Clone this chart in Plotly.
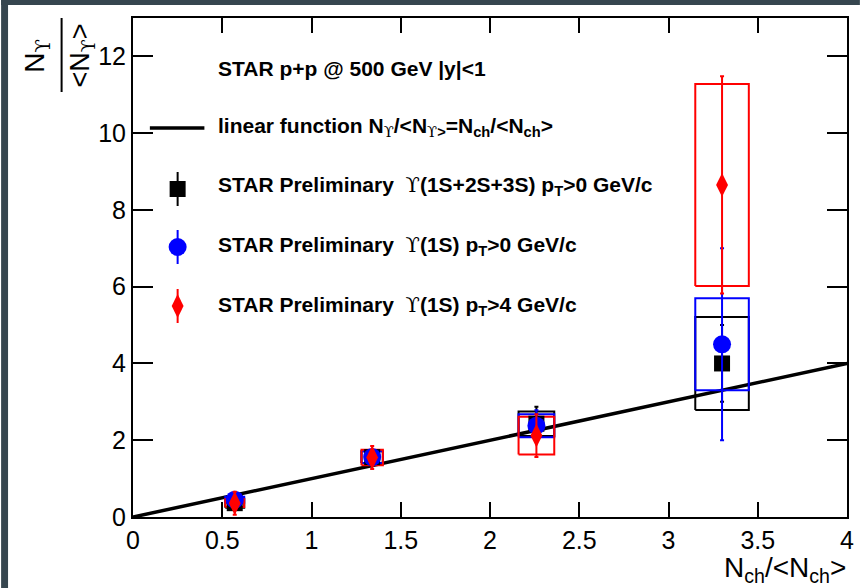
import plotly.graph_objects as go

# Multiplicity bins N_ch/<N_ch> and half-widths of the systematic boxes
nch = [0.57, 1.34, 2.26, 3.30]
nch_box_hw = [0.053, 0.06, 0.10, 0.15]

# Upsilon(1S+2S+3S), pT > 0 GeV/c
all_y = [0.36, 1.56, 2.43, 4.00]
all_stat = [0.12, 0.15, 0.44, 1.00]
all_sys = [0.12, 0.15, 0.32, 1.21]

# Upsilon(1S), pT > 0 GeV/c
s1_y = [0.45, 1.56, 2.38, 4.50]
s1_stat = [0.15, 0.17, 0.40, 2.50]
s1_sys = [0.08, 0.15, 0.30, 1.20]

# Upsilon(1S), pT > 4 GeV/c
s1hi_y = [0.36, 1.55, 2.12, 8.65]
s1hi_stat = [0.30, 0.30, 0.56, 2.83]
s1hi_sys = [0.10, 0.20, 0.49, 2.63]

# Linear reference N_Y/<N_Y> = N_ch/<N_ch>
line_x = [0.0, 4.0]
line_y = [0.0, 4.0]

x_ticks = [0, 0.5, 1, 1.5, 2, 2.5, 3, 3.5, 4]
y_ticks = [0, 2, 4, 6, 8, 10, 12]

FONT = "Liberation Sans, Arial, Helvetica, sans-serif"
BLACK, BLUE, RED = "#000000", "#0000ff", "#ff0000"
UPS = "<span style='font-family:DejaVu Serif;font-weight:normal'>ϒ</span>"

# page geometry (pixels)
W_PAGE, H_PAGE = 866, 588
L, R, T, B = 133, 853, 18, 517


def px(x):
    return (x - L) / (R - L)


def py(y):
    return (B - y) / (B - T)


def box_outline(xs, hws, ys, errs):
    bx, by = [], []
    for x, w, y, e in zip(xs, hws, ys, errs):
        bx += [x - w, x + w, x + w, x - w, x - w, None]
        by += [y - e, y - e, y + e, y + e, y - e, None]
    return bx, by


fig = go.Figure()

fig.add_trace(go.Scatter(x=line_x, y=line_y, mode="lines",
                         line=dict(color=BLACK, width=3.5), showlegend=False))

for ys, sys, col in [(all_y, all_sys, BLACK), (s1_y, s1_sys, BLUE), (s1hi_y, s1hi_sys, RED)]:
    bx, by = box_outline(nch, nch_box_hw, ys, sys)
    fig.add_trace(go.Scatter(x=bx, y=by, mode="lines", line=dict(color=col, width=2),
                             showlegend=False))

series = [
    (all_y, all_stat, BLACK, "square", 16),
    (s1_y, s1_stat, BLUE, "circle", 18),
    (s1hi_y, s1hi_stat, RED, "diamond-tall", 17),
]
for ys, st, col, sym, size in series:
    fig.add_trace(go.Scatter(
        x=nch, y=ys, mode="markers",
        marker=dict(symbol=sym, size=size, color=col, line=dict(width=0)),
        error_y=dict(type="data", array=st, color=col, thickness=2, width=2),
        showlegend=False))

# legend keys, placed on an overlay axis measured in page pixels
fig.add_trace(go.Scatter(x=[150, 205], y=[128, 128], mode="lines", xaxis="x2", yaxis="y2",
                         line=dict(color=BLACK, width=3.5), showlegend=False))
legend_keys = [(189, BLACK, "square", 16), (247, BLUE, "circle", 18), (306, RED, "diamond-tall", 17)]
for yk, col, sym, size in legend_keys:
    fig.add_trace(go.Scatter(
        x=[178], y=[yk], mode="markers", xaxis="x2", yaxis="y2",
        marker=dict(symbol=sym, size=size, color=col, line=dict(width=0)),
        error_y=dict(type="data", array=[17], color=col, thickness=2, width=0),
        showlegend=False))

legend_texts = [
    (68, "<b>STAR p+p @ 500 GeV |y|&lt;1</b>"),
    (127, f"<b>linear function N<sub>{UPS}</sub>/&lt;N<sub>{UPS}&gt;</sub>=N<sub>ch</sub>/&lt;N<sub>ch</sub>&gt;</b>"),
    (186, f"<b>STAR Preliminary  {UPS}(1S+2S+3S) p<sub>T</sub>&gt;0 GeV/c</b>"),
    (246, f"<b>STAR Preliminary  {UPS}(1S) p<sub>T</sub>&gt;0 GeV/c</b>"),
    (306, f"<b>STAR Preliminary  {UPS}(1S) p<sub>T</sub>&gt;4 GeV/c</b>"),
]
annotations = []
for yk, txt in legend_texts:
    annotations.append(dict(xref="paper", yref="paper", x=px(217), y=py(yk),
                            xanchor="left", yanchor="middle", text=txt, showarrow=False,
                            font=dict(family=FONT, size=21, color=BLACK)))

# axis titles
annotations.append(dict(xref="paper", yref="paper", x=px(854), y=py(569),
                        xanchor="right", yanchor="middle", showarrow=False,
                        text="N<sub>ch</sub>/&lt;N<sub>ch</sub>&gt;",
                        font=dict(family=FONT, size=28, color=BLACK)))
annotations.append(dict(xref="paper", yref="paper", x=px(36), y=py(56),
                        xanchor="center", yanchor="middle", showarrow=False, textangle=-90,
                        text=f"N<sub>{UPS}</sub>", font=dict(family=FONT, size=28, color=BLACK)))
annotations.append(dict(xref="paper", yref="paper", x=px(82), y=py(55),
                        xanchor="center", yanchor="middle", showarrow=False, textangle=-90,
                        text=f"&lt;N<sub>{UPS}</sub>&gt;", font=dict(family=FONT, size=27, color=BLACK)))

shapes = [
    # fraction bar of the y title
    dict(type="line", xref="paper", yref="paper", x0=px(61), x1=px(61), y0=py(18), y1=py(92),
         line=dict(color=BLACK, width=2)),
    # dark page frame
    dict(type="rect", xref="paper", yref="paper", x0=px(0), x1=px(7), y0=py(H_PAGE), y1=py(0),
         fillcolor="#36464f", line=dict(width=0), layer="above"),
    dict(type="rect", xref="paper", yref="paper", x0=px(0), x1=px(W_PAGE), y0=py(5), y1=py(0),
         fillcolor="#36464f", line=dict(width=0), layer="above"),
]

axis_common = dict(showline=True, linecolor=BLACK, linewidth=2, mirror="ticks",
                   ticks="inside", tickwidth=2, tickcolor=BLACK, showgrid=False,
                   zeroline=False, tickfont=dict(family=FONT, size=25, color=BLACK))

fig.update_layout(
    width=W_PAGE, height=H_PAGE,
    margin=dict(l=L, r=W_PAGE - R, t=T, b=H_PAGE - B, pad=0),
    paper_bgcolor="white", plot_bgcolor="white",
    showlegend=False,
    xaxis=dict(range=[0, 4], tickvals=x_ticks, ticktext=[f"{v:g}" for v in x_ticks],
               ticklen=15, **axis_common),
    yaxis=dict(range=[0, 13], tickvals=y_ticks, ticktext=[f"{v:g}" for v in y_ticks],
               ticklen=20, **axis_common),
    xaxis2=dict(range=[L, R], overlaying="x", visible=False, anchor="y2"),
    yaxis2=dict(range=[B, T], overlaying="y", visible=False, anchor="x2"),
    annotations=annotations,
    shapes=shapes,
)

fig.write_html("out.html")
